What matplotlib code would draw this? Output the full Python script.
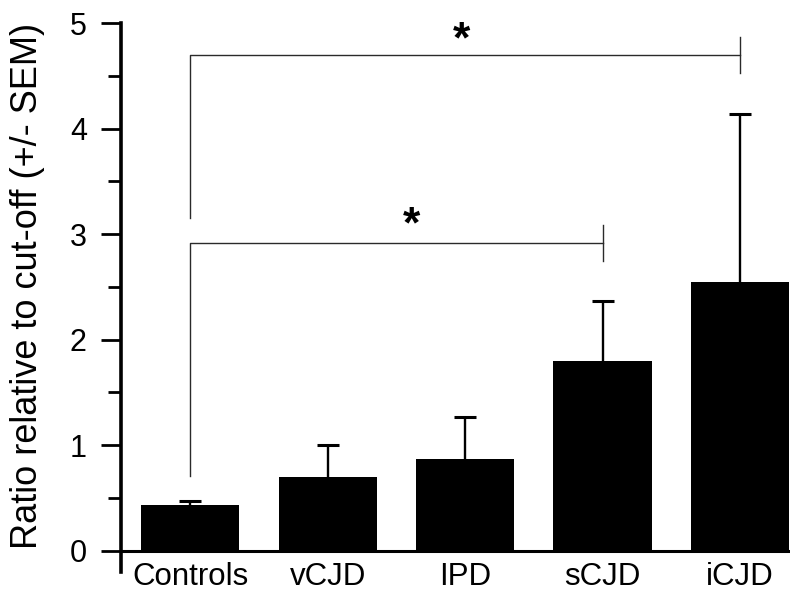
import numpy as np
import matplotlib.pyplot as plt

plt.rcParams['font.family'] = ['Liberation Sans', 'DejaVu Sans']

# data
groups = ['Controls', 'vCJD', 'IPD', 'sCJD', 'iCJD']
means = [0.43, 0.70, 0.865, 1.80, 2.55]
sem = [0.04, 0.30, 0.40, 0.57, 1.59]

# significance brackets: (from group, to group, bracket height, left drop end)
brackets = [(0, 4, 4.70, 3.155), (0, 3, 2.92, 0.707)]
star_pos = [(1.97, 4.83), (1.61, 3.08)]

fig = plt.figure(figsize=(8, 5.97), dpi=100)
ax = fig.add_axes([0.151, 0.0422, 0.836, 0.919])

x = np.arange(len(groups))
ax.bar(x, means, width=0.715, color='black', zorder=2)
eb = ax.errorbar(x, means, yerr=[np.zeros(len(sem)), sem], fmt='none', ecolor='black',
                 elinewidth=1.7, capsize=8, capthick=2.2, zorder=1)
eb[1][0].set_visible(False)  # hide lower caps

# brackets
for (a, b, h, drop) in brackets:
    ax.plot([a, a, b], [drop, h, h], color='#2a2a2a', lw=1.0)
    ax.plot([b, b], [h - 0.17, h + 0.17], color='#2a2a2a', lw=1.0)
for (sx, sy) in star_pos:
    ax.text(sx, sy, '*', ha='center', va='center', fontsize=32, fontweight='bold')

ax.axhline(0, color='black', lw=2.2, zorder=3)

ax.set_xlim(-0.505, 4.36)
ax.set_ylim(-0.2, 5)
ax.spines['top'].set_visible(False)
ax.spines['right'].set_visible(False)
ax.spines['bottom'].set_visible(False)
ax.spines['left'].set_linewidth(2.6)

ax.set_yticks(np.arange(0, 6, 1))
ax.set_yticks(np.arange(0.5, 5, 1), minor=True)
ax.tick_params(axis='y', which='major', direction='out', length=14.5, width=2,
               labelsize=22, pad=10)
ax.tick_params(axis='y', which='minor', direction='out', length=9.5, width=2)
ax.set_xticks(x)
ax.set_xticklabels(groups)
ax.tick_params(axis='x', length=0, labelsize=22.5, pad=-7)

ax.set_ylabel('Ratio relative to cut-off (+/- SEM)', fontsize=26)
ax.yaxis.set_label_coords(-0.113, 0.521)

plt.savefig('out.png')
